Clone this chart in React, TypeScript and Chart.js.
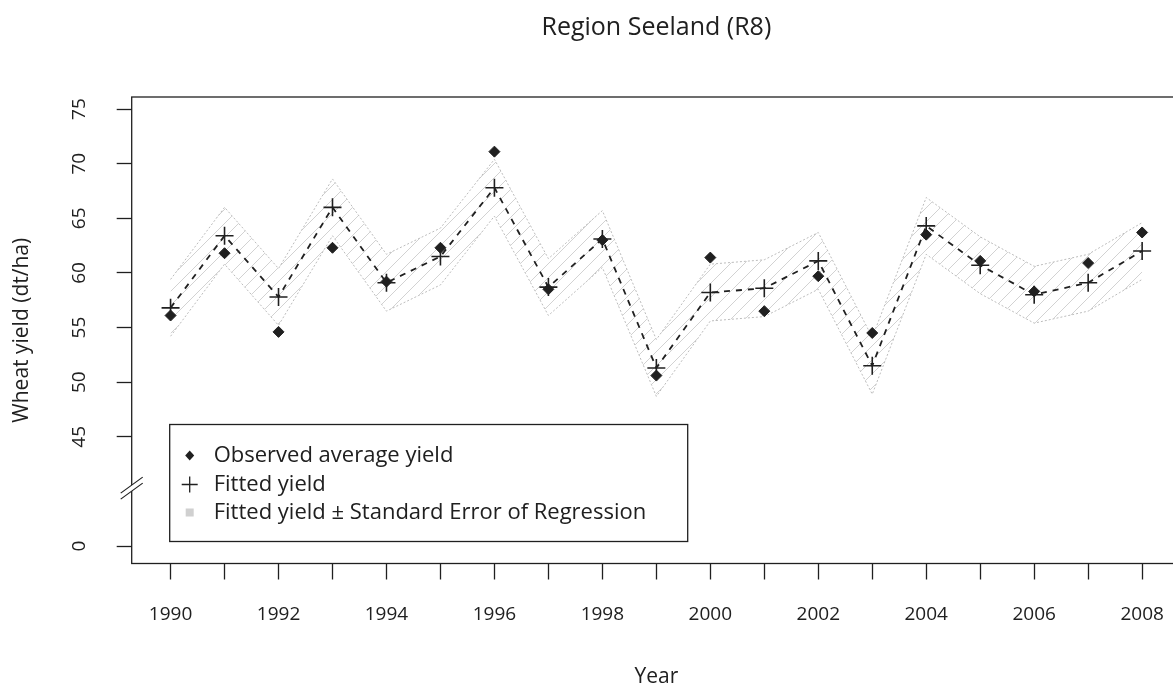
import React, { useEffect, useRef } from 'react';
import { Chart, registerables } from 'chart.js';

Chart.register(...registerables);

// ---- data ----
const chartTitle = 'Region Seeland (R8)';
const xAxisTitle = 'Year';
const yAxisTitle = 'Wheat yield (dt/ha)';

const years = [1990, 1991, 1992, 1993, 1994, 1995, 1996, 1997, 1998, 1999, 2000, 2001, 2002, 2003, 2004, 2005, 2006, 2007, 2008];
const observedYield = [56.1, 61.8, 54.6, 62.3, 59.2, 62.3, 71.1, 58.5, 63.0, 50.6, 61.4, 56.5, 59.7, 54.5, 63.5, 61.1, 58.3, 60.9, 63.7];
const fittedYield = [56.8, 63.4, 57.8, 66.0, 59.1, 61.5, 67.8, 58.7, 63.1, 51.3, 58.2, 58.6, 61.1, 51.5, 64.3, 60.7, 58.0, 59.1, 62.0];
const standardError = 2.6;

const xLabelYears = [1990, 1992, 1994, 1996, 1998, 2000, 2002, 2004, 2006, 2008];
// the axis is broken: position 35 carries the label "0"
const yTickValues = [35, 45, 50, 55, 60, 65, 70, 75];
const yTickLabels = ['0', '45', '50', '55', '60', '65', '70', '75'];
const yBreakValue = 40.3;

const legendLabels = [
  'Observed average yield',
  'Fitted yield',
  'Fitted yield \u00B1 Standard Error of Regression',
];

const FONT = '"Open Sans", "DejaVu Sans", sans-serif';
const INK = '#202020';

function makeHatch(ctx: CanvasRenderingContext2D): CanvasPattern | string {
  const c = document.createElement('canvas');
  c.width = 14;
  c.height = 14;
  const g = c.getContext('2d');
  if (!g) return '#e4e4e4';
  g.strokeStyle = '#cdcdcd';
  g.lineWidth = 0.9;
  g.beginPath();
  g.moveTo(0, 14);
  g.lineTo(14, 0);
  g.moveTo(-7, 7);
  g.lineTo(7, -7);
  g.moveTo(7, 21);
  g.lineTo(21, 7);
  g.stroke();
  return ctx.createPattern(c, 'repeat') || '#e4e4e4';
}

export default function App() {
  const ref = useRef<HTMLCanvasElement | null>(null);

  useEffect(() => {
    const canvas = ref.current;
    if (!canvas) return;
    const ctx = canvas.getContext('2d') as CanvasRenderingContext2D;
    const hatch = makeHatch(ctx);

    const bandLower = fittedYield.map((v) => v - standardError);
    const bandUpper = fittedYield.map((v) => v + standardError);
    const toXY = (arr: number[]) => years.map((yr, i) => ({ x: yr, y: arr[i] }));

    const decor = {
      id: 'decor',
      afterDraw(chart: any) {
        const c: CanvasRenderingContext2D = chart.ctx;
        const a = chart.chartArea;
        const ys = chart.scales.y;
        c.save();

        // plot box
        c.strokeStyle = INK;
        c.lineWidth = 1.3;
        c.strokeRect(a.left, a.top, a.right - a.left, a.bottom - a.top);

        // axis break symbol
        const yb = ys.getPixelForValue(yBreakValue);
        const dx = 11;
        const dy = 8;
        const gap = 3;
        c.fillStyle = '#ffffff';
        c.beginPath();
        c.moveTo(a.left - dx, yb + dy - gap);
        c.lineTo(a.left + dx, yb - dy - gap);
        c.lineTo(a.left + dx, yb - dy + gap);
        c.lineTo(a.left - dx, yb + dy + gap);
        c.closePath();
        c.fill();
        c.beginPath();
        c.moveTo(a.left - dx, yb + dy - gap);
        c.lineTo(a.left + dx, yb - dy - gap);
        c.moveTo(a.left - dx, yb + dy + gap);
        c.lineTo(a.left + dx, yb - dy + gap);
        c.lineWidth = 1.2;
        c.strokeStyle = INK;
        c.stroke();

        // rotated y tick labels
        c.fillStyle = INK;
        c.font = `19px ${FONT}`;
        c.textAlign = 'center';
        c.textBaseline = 'middle';
        yTickValues.forEach((v, i) => {
          const py = ys.getPixelForValue(v);
          c.save();
          c.translate(80, py);
          c.rotate(-Math.PI / 2);
          c.fillText(yTickLabels[i], 0, 0);
          c.restore();
        });

        // title centred over the plot region
        c.font = `25px ${FONT}`;
        c.fillText(chartTitle, (a.left + a.right) / 2, 28);

        // legend box
        const lx = a.left + 38;
        const ly = a.bottom - 139;
        const lw = 518;
        const lh = 117;
        c.fillStyle = '#ffffff';
        c.fillRect(lx, ly, lw, lh);
        c.strokeStyle = INK;
        c.lineWidth = 1.3;
        c.strokeRect(lx, ly, lw, lh);

        const rows = [ly + 31, ly + 60, ly + 88];
        const sx = lx + 20;
        // diamond
        c.fillStyle = INK;
        c.beginPath();
        c.moveTo(sx, rows[0] - 5);
        c.lineTo(sx + 4.5, rows[0]);
        c.lineTo(sx, rows[0] + 5);
        c.lineTo(sx - 4.5, rows[0]);
        c.closePath();
        c.fill();
        // plus
        c.beginPath();
        c.moveTo(sx - 8, rows[1]);
        c.lineTo(sx + 8, rows[1]);
        c.moveTo(sx, rows[1] - 8);
        c.lineTo(sx, rows[1] + 8);
        c.lineWidth = 1.3;
        c.stroke();
        // hatched square
        c.fillStyle = '#d0d0d0';
        c.fillRect(sx - 4, rows[2] - 4, 8, 8);

        c.fillStyle = INK;
        c.font = `22px ${FONT}`;
        c.textAlign = 'left';
        legendLabels.forEach((t, i) => c.fillText(t, lx + 44, rows[i]));

        c.restore();
      },
    };

    const chart = new Chart(canvas, {
      type: 'line',
      data: {
        datasets: [
          {
            label: legendLabels[0],
            data: toXY(observedYield),
            showLine: false,
            pointStyle: 'rectRot',
            pointRadius: 5.5,
            pointBackgroundColor: INK,
            pointBorderColor: INK,
            pointBorderWidth: 1,
            order: 0,
          },
          {
            label: legendLabels[1],
            data: toXY(fittedYield),
            borderColor: INK,
            borderWidth: 1.8,
            borderDash: [6, 6],
            pointStyle: 'cross',
            pointRadius: 9,
            pointBorderWidth: 1.6,
            pointBorderColor: INK,
            fill: false,
            tension: 0,
            order: 1,
          },
          {
            label: 'lower',
            data: toXY(bandLower),
            borderColor: '#bcbcbc',
            borderWidth: 1,
            borderDash: [2, 2],
            pointRadius: 0,
            fill: false,
            tension: 0,
            order: 3,
          },
          {
            label: legendLabels[2],
            data: toXY(bandUpper),
            borderColor: '#bcbcbc',
            borderWidth: 1,
            borderDash: [2, 2],
            pointRadius: 0,
            fill: '-1',
            backgroundColor: hatch as any,
            tension: 0,
            order: 2,
          },
        ],
      },
      options: {
        animation: false,
        responsive: false,
        events: [],
        layout: { padding: { top: 97, left: 0, right: 19, bottom: 0 } },
        plugins: {
          legend: { display: false },
          tooltip: { enabled: false },
          title: { display: false },
        },
        scales: {
          x: {
            type: 'linear',
            min: 1989.28,
            max: 2008.72,
            afterBuildTicks: (scale: any) => {
              scale.ticks = years.map((v) => ({ value: v }));
            },
            afterFit: (scale: any) => {
              scale.height = 124.5;
            },
            ticks: {
              autoSkip: false,
              maxRotation: 0,
              minRotation: 0,
              padding: 24,
              color: INK,
              font: { family: FONT, size: 19 },
              callback: (value: any) => (xLabelYears.includes(Number(value)) ? String(value) : ''),
            },
            grid: {
              display: true,
              drawOnChartArea: false,
              drawTicks: true,
              tickLength: 16,
              color: INK,
              tickColor: INK,
              tickWidth: 1.3,
            },
            border: { display: false },
            title: {
              display: true,
              text: xAxisTitle,
              color: INK,
              font: { family: FONT, size: 21, lineHeight: 1 },
              padding: { top: 0, bottom: 0 },
            },
          },
          y: {
            type: 'linear',
            min: 33.4,
            max: 76.1,
            afterBuildTicks: (scale: any) => {
              scale.ticks = yTickValues.map((v) => ({ value: v }));
            },
            afterFit: (scale: any) => {
              scale.width = 131.7;
            },
            ticks: { display: false },
            grid: {
              display: true,
              drawOnChartArea: false,
              drawTicks: true,
              tickLength: 15,
              color: INK,
              tickColor: INK,
              tickWidth: 1.3,
            },
            border: { display: false },
            title: {
              display: true,
              text: yAxisTitle,
              color: INK,
              font: { family: FONT, size: 21 },
              padding: { top: 9, bottom: 0 },
            },
          },
        },
      } as any,
      plugins: [decor],
    });

    return () => chart.destroy();
  }, []);

  return (
    <div style={{ position: 'fixed', left: 0, top: 0, width: 1200, height: 688, background: '#ffffff' }}>
      <canvas ref={ref} width={1200} height={688} style={{ width: 1200, height: 688, display: 'block' }} />
    </div>
  );
}
